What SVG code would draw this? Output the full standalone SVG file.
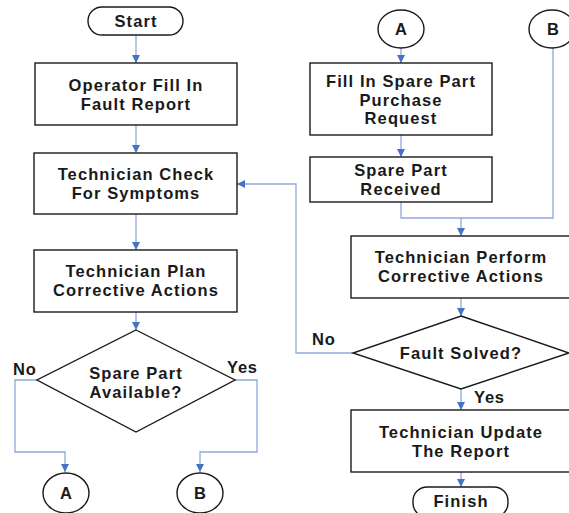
<svg xmlns="http://www.w3.org/2000/svg" width="569" height="513" viewBox="0 0 569 513">
  <style>
    .box { fill: #ffffff; stroke: #1a1a1a; stroke-width: 1.4; }
    .t { font-family: "Liberation Sans", Arial, sans-serif; font-weight: bold; font-size: 16.5px; letter-spacing: 1.1px; fill: #1a1a1a; text-anchor: middle; }
    .lbl { font-family: "Liberation Sans", Arial, sans-serif; font-weight: bold; font-size: 16.5px; letter-spacing: 0.8px; fill: #1a1a1a; }
    .c { fill: none; stroke: #8eaadb; stroke-width: 1.3; }
  </style>
  <defs>
    <marker id="ah" markerUnits="userSpaceOnUse" markerWidth="8" markerHeight="8" viewBox="0 0 8 8" refX="8" refY="4" orient="auto">
      <path d="M0,0 L8,4 L0,8 Z" fill="#4472c4"/>
    </marker>
  </defs>
  <rect width="569" height="513" fill="#ffffff"/>

  <!-- connectors -->
  <g id="connectors">
    <path class="c" d="M136,35 V63" marker-end="url(#ah)"/>
    <path class="c" d="M136,125 V153" marker-end="url(#ah)"/>
    <path class="c" d="M136,214 V250" marker-end="url(#ah)"/>
    <path class="c" d="M136,312 V330" marker-end="url(#ah)"/>
    <path class="c" d="M37,380 H15 V452 H65 V472" marker-end="url(#ah)"/>
    <path class="c" d="M235,380 H257 V452 H200 V472" marker-end="url(#ah)"/>
    <path class="c" d="M401,48 V63" marker-end="url(#ah)"/>
    <path class="c" d="M401,135 V157" marker-end="url(#ah)"/>
    <path class="c" d="M401,202 V218 H461"/>
    <path class="c" d="M553,48 V218 H461 V236" marker-end="url(#ah)"/>
    <path class="c" d="M461,298 V316" marker-end="url(#ah)"/>
    <path class="c" d="M353,353 H296 V184 H237" marker-end="url(#ah)"/>
    <path class="c" d="M461,389 V410" marker-end="url(#ah)"/>
    <path class="c" d="M461,472 V487" marker-end="url(#ah)"/>
  </g>

  <g id="start">
    <rect class="box" x="88" y="7" width="95" height="28" rx="14"/>
    <text class="t" x="136" y="27">Start</text>
  </g>
  <g id="fault-report">
    <rect class="box" x="35" y="63" width="202" height="62"/>
    <text class="t" x="136" y="91">Operator Fill In</text>
    <text class="t" x="136" y="110">Fault Report</text>
  </g>
  <g id="check-symptoms">
    <rect class="box" x="34" y="153" width="203" height="61"/>
    <text class="t" x="136" y="180">Technician Check</text>
    <text class="t" x="136" y="199">For Symptoms</text>
  </g>
  <g id="plan-actions">
    <rect class="box" x="34" y="250" width="203" height="62"/>
    <text class="t" x="136" y="277">Technician Plan</text>
    <text class="t" x="136" y="296">Corrective Actions</text>
  </g>
  <g id="part-available">
    <polygon class="box" points="136,330 235,380 136,432 37,380"/>
    <text class="t" x="136" y="379">Spare Part</text>
    <text class="t" x="136" y="398">Available?</text>
    <text class="lbl" x="13" y="375">No</text>
    <text class="lbl" x="227" y="373">Yes</text>
  </g>
  <g id="conn-a-out">
    <ellipse class="box" cx="66" cy="493" rx="23" ry="20"/>
    <text class="t" x="66" y="499" style="letter-spacing:0">A</text>
  </g>
  <g id="conn-b-out">
    <ellipse class="box" cx="200" cy="493" rx="23" ry="20"/>
    <text class="t" x="200" y="499" style="letter-spacing:0">B</text>
  </g>

  <g id="conn-a-in">
    <ellipse class="box" cx="401" cy="29" rx="23" ry="19"/>
    <text class="t" x="401" y="35" style="letter-spacing:0">A</text>
  </g>
  <g id="conn-b-in">
    <ellipse class="box" cx="552" cy="29" rx="23" ry="19"/>
    <text class="t" x="553" y="35" style="letter-spacing:0">B</text>
  </g>
  <g id="purchase-request">
    <rect class="box" x="310" y="63" width="182" height="72"/>
    <text class="t" x="401" y="87">Fill In Spare Part</text>
    <text class="t" x="401" y="106">Purchase</text>
    <text class="t" x="401" y="124">Request</text>
  </g>
  <g id="part-received">
    <rect class="box" x="310" y="157" width="182" height="45"/>
    <text class="t" x="401" y="176">Spare Part</text>
    <text class="t" x="401" y="195">Received</text>
  </g>
  <g id="perform-actions">
    <rect class="box" x="351" y="236" width="220" height="62"/>
    <text class="t" x="461" y="263">Technician Perform</text>
    <text class="t" x="461" y="282">Corrective Actions</text>
  </g>
  <g id="fault-solved">
    <polygon class="box" points="461,316 569,353 461,389 353,353"/>
    <text class="t" x="461" y="359">Fault Solved?</text>
    <text class="lbl" x="312" y="345">No</text>
    <text class="lbl" x="474" y="403">Yes</text>
  </g>
  <g id="update-report">
    <rect class="box" x="351" y="410" width="220" height="62"/>
    <text class="t" x="461" y="438">Technician Update</text>
    <text class="t" x="461" y="457">The Report</text>
  </g>
  <g id="finish">
    <rect class="box" x="413" y="487" width="95" height="30" rx="14"/>
    <text class="t" x="461" y="507">Finish</text>
  </g>
</svg>
